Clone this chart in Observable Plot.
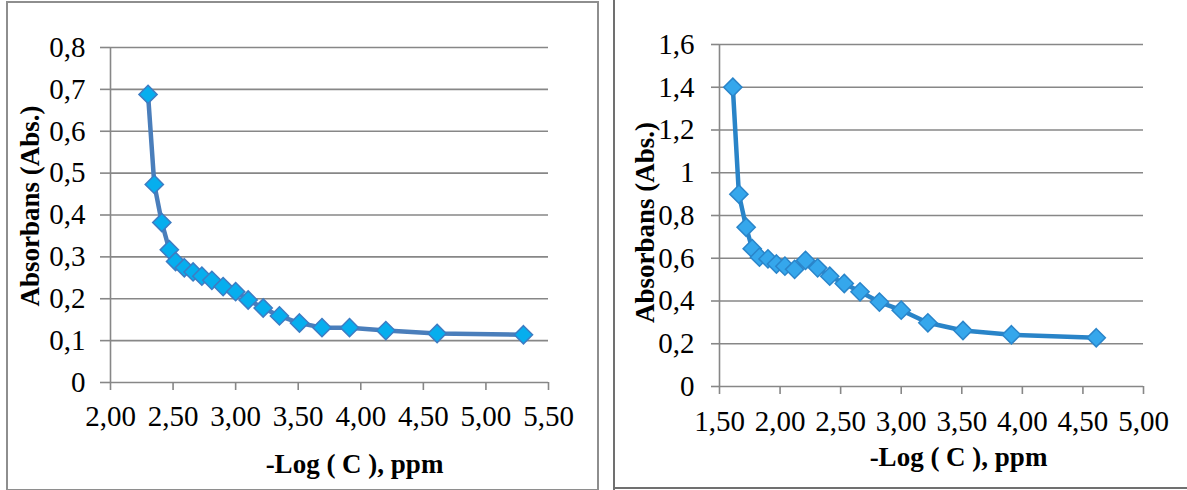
<!DOCTYPE html>
<html>
<head>
<meta charset="utf-8">
<script src="https://cdn.jsdelivr.net/npm/d3@7"></script>
<script src="https://cdn.jsdelivr.net/npm/@observablehq/plot@0.6"></script>
<style>
  html, body { margin: 0; padding: 0; background: #fff; }
  #wrap { position: relative; width: 1187px; height: 490px; overflow: hidden; background: #fff; }
  #left, #right { position: absolute; top: 0; }
  #left { left: 0; }
  #right { left: 600px; }
  .box1 { position: absolute; left: 6px; top: 1px; width: 589px; height: 486px; border: 2px solid #8e8e8e; box-sizing: content-box; }
  .vline { position: absolute; left: 613px; top: 0; width: 2px; height: 490px; background: #707070; }
  .hline { position: absolute; left: 613px; top: 487px; width: 574px; height: 2px; background: #707070; }
  svg text { font-family: "Liberation Serif", "Times New Roman", serif; }
  svg g[aria-label="x-axis tick label"] text, svg g[aria-label="y-axis tick label"] text { font-size: 29px; }
</style>
</head>
<body>
<div id="wrap">
  <div class="box1"></div>
  <div class="vline"></div>
  <div class="hline"></div>
  <div id="left"></div>
  <div id="right"></div>
</div>
<script>
// ---- Left chart data ----
const leftX = [2.30, 2.35, 2.41, 2.47, 2.52, 2.59, 2.66, 2.73, 2.81, 2.90, 3.00, 3.10, 3.22, 3.35, 3.51, 3.69, 3.91, 4.20, 4.61, 5.30];
const leftY = [0.688, 0.473, 0.382, 0.317, 0.289, 0.274, 0.264, 0.254, 0.244, 0.229, 0.217, 0.197, 0.178, 0.159, 0.142, 0.131, 0.131, 0.124, 0.117, 0.114];
const leftXTicks = [2.0, 2.5, 3.0, 3.5, 4.0, 4.5, 5.0, 5.5];
const leftXTickLabels = ["2,00", "2,50", "3,00", "3,50", "4,00", "4,50", "5,00", "5,50"];
const leftYTicks = [0, 0.1, 0.2, 0.3, 0.4, 0.5, 0.6, 0.7, 0.8];
const leftYTickLabels = ["0", "0,1", "0,2", "0,3", "0,4", "0,5", "0,6", "0,7", "0,8"];

// ---- Right chart data ----
const rightX = [1.61, 1.66, 1.72, 1.77, 1.83, 1.90, 1.97, 2.04, 2.12, 2.21, 2.31, 2.41, 2.53, 2.66, 2.82, 3.00, 3.22, 3.51, 3.91, 4.61];
const rightY = [1.40, 0.90, 0.745, 0.645, 0.605, 0.597, 0.573, 0.563, 0.548, 0.590, 0.555, 0.516, 0.482, 0.443, 0.395, 0.357, 0.298, 0.262, 0.242, 0.228];
const rightXTicks = [1.5, 2.0, 2.5, 3.0, 3.5, 4.0, 4.5, 5.0];
const rightXTickLabels = ["1,50", "2,00", "2,50", "3,00", "3,50", "4,00", "4,50", "5,00"];
const rightYTicks = [0, 0.2, 0.4, 0.6, 0.8, 1.0, 1.2, 1.4, 1.6];
const rightYTickLabels = ["0", "0,2", "0,4", "0,6", "0,8", "1", "1,2", "1,4", "1,6"];

const xTitle = "-Log ( C ), ppm";
const yTitle = "Absorbans (Abs.)";

function chart(cfg) {
  const pts = cfg.xs.map((x, i) => ({x, y: cfg.ys[i]}));
  const xFmt = new Map(cfg.xTicks.map((t, i) => [t, cfg.xLabels[i]]));
  const yFmt = new Map(cfg.yTicks.map((t, i) => [t, cfg.yLabels[i]]));
  const grid = "#878787";
  return Plot.plot({
    width: cfg.width, height: 490,
    marginLeft: cfg.ml, marginRight: cfg.mr, marginTop: cfg.mt, marginBottom: cfg.mb,
    style: {fontFamily: "'Liberation Serif', 'Times New Roman', serif", fontSize: "29px", color: "#000", background: "transparent", overflow: "visible"},
    x: {domain: cfg.xDomain},
    y: {domain: cfg.yDomain},
    marks: [
      Plot.gridY(cfg.yTicks, {stroke: grid, strokeOpacity: 1, strokeWidth: 1.6}),
      Plot.ruleX([cfg.xDomain[0]], {stroke: grid, strokeWidth: 1.6}),
      Plot.axisY(cfg.yTicks, {tickSize: cfg.yTickSize, tickPadding: cfg.yPad, stroke: grid, strokeWidth: 1.6, tickFormat: d => yFmt.get(d), label: null, fontSize: 29}),
      Plot.axisX(cfg.xTicks, {tickSize: 8, tickPadding: cfg.xPad, stroke: grid, strokeWidth: 1.6, tickFormat: d => xFmt.get(d), label: null, fontSize: 29}),
      Plot.line(pts, {x: "x", y: "y", stroke: cfg.lineColor, strokeWidth: 4.5, curve: "linear"}),
      Plot.dot(pts, {x: "x", y: "y", symbol: "diamond2", r: 8.2, fill: cfg.fill, stroke: cfg.markStroke, strokeWidth: 1.5}),
      Plot.text([xTitle], {frameAnchor: "bottom", text: d => d, textAnchor: "middle", dx: cfg.xtDx, dy: cfg.xtDy, fontSize: 27, fontWeight: "bold", lineAnchor: "middle", fill: "#000"}),
      Plot.text([yTitle], {frameAnchor: "left", text: d => d, textAnchor: "middle", rotate: -90, dx: cfg.ytDx, dy: cfg.ytDy, fontSize: 27, fontWeight: "bold", lineAnchor: "middle", fill: "#000"})
    ]
  });
}

document.getElementById("left").appendChild(chart({
  xs: leftX, ys: leftY, xTicks: leftXTicks, xLabels: leftXTickLabels, yTicks: leftYTicks, yLabels: leftYTickLabels,
  width: 600, ml: 110, mr: 52, mt: 47, mb: 108,
  xDomain: [2, 5.5], yDomain: [0, 0.8],
  yTickSize: 10, yPad: 15, xPad: 15,
  lineColor: "#4a7ebb", fill: "#06aeee", markStroke: "#3d7cc3",
  xtDx: 25, xtDy: 82, ytDx: -80, ytDy: -9
}));

document.getElementById("right").appendChild(chart({
  xs: rightX, ys: rightY, xTicks: rightXTicks, xLabels: rightXTickLabels, yTicks: rightYTicks, yLabels: rightYTickLabels,
  width: 587, ml: 119, mr: 44, mt: 44, mb: 104,
  xDomain: [1.5, 5.0], yDomain: [0, 1.6],
  yTickSize: 8, yPad: 17, xPad: 16,
  lineColor: "#2984c8", fill: "#35a7ec", markStroke: "#2a85ca",
  xtDx: 27, xtDy: 71, ytDx: -74, ytDy: 7
}));
</script>
</body>
</html>
